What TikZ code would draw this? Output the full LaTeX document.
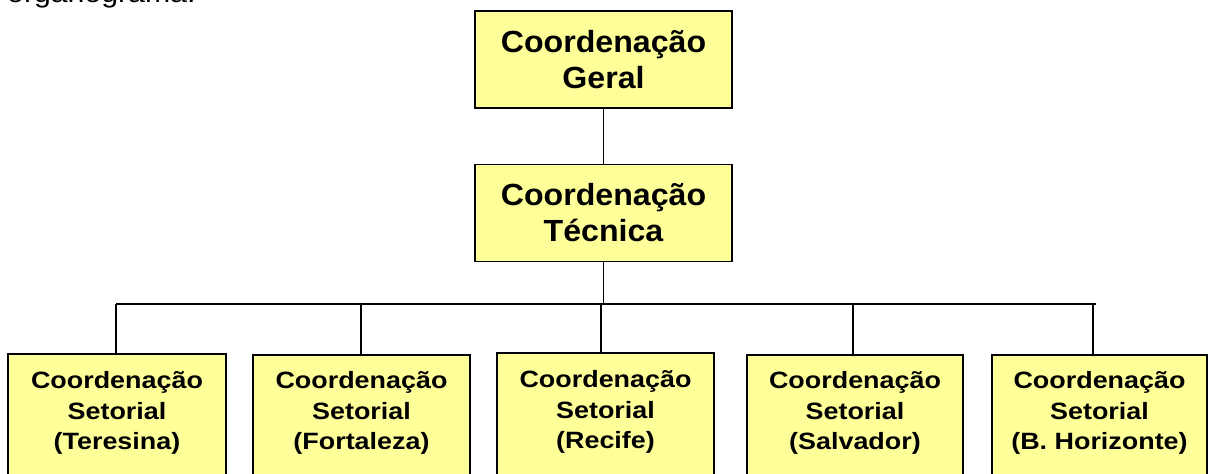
\documentclass[tikz,border=0pt]{standalone}
\usepackage{fontspec}
\setmainfont{Liberation Sans}
\newfontfamily\bigboxfont[FakeStretch=1.05]{Liberation Sans}
\newfontfamily\smallboxfont[FakeStretch=1.14]{Liberation Sans}
\newfontfamily\headfont[FakeStretch=1.12]{Liberation Sans}
\definecolor{boxyellow}{HTML}{FFFF99}
\begin{document}
\begin{tikzpicture}[x=1pt,y=-1pt,
  topbox/.style={draw=black, line width=1.8pt, fill=boxyellow, minimum width=257pt, minimum height=97pt,
    inner sep=0pt, align=center, font=\bigboxfont\bfseries\fontsize{30.6}{36}\selectfont},
  secframe/.style={draw=black, line width=1.8pt, fill=boxyellow, minimum height=150pt, inner sep=0pt, anchor=north},
  sectext/.style={inner sep=0pt, align=center, font=\smallboxfont\bfseries\fontsize{23.6}{30.5}\selectfont},
  conn/.style={draw=black, line width=1.4pt},
  bus/.style={draw=black, line width=1.9pt},
  headtext/.style={inner sep=0pt, anchor=base west, font=\headfont\fontsize{27}{32}\selectfont}
]
\useasboundingbox (0,0) rectangle (1208,474);
\clip (0,0) rectangle (1208,474);

\node[headtext] (head) at (7,2) {organograma.};

\node[topbox] (cg) at (603.5,59.5) {Coordenação\\Geral};
\node[topbox] (ct) at (603.5,213) {Coordenação\\Técnica};

\node[secframe, minimum width=218pt] (s1) at (117,353) {};
\node[secframe, minimum width=217pt] (s2) at (361.5,354) {};
\node[secframe, minimum width=217pt] (s3) at (605.5,352) {};
\node[secframe, minimum width=216pt] (s4) at (855,354) {};
\node[secframe, minimum width=215pt] (s5) at (1099.5,354) {};

\node[sectext] (t1) at (117,413) {Coordenação\\Setorial\\(Teresina)};
\node[sectext] (t2) at (361.5,413) {Coordenação\\Setorial\\(Fortaleza)};
\node[sectext] (t3) at (605.5,412) {Coordenação\\Setorial\\(Recife)};
\node[sectext] (t4) at (855,413) {Coordenação\\Setorial\\(Salvador)};
\node[sectext] (t5) at (1099.5,413) {Coordenação\\Setorial\\(B. Horizonte)};

\coordinate (busL) at (116,304);
\coordinate (busR) at (1096,304);
\coordinate (d1) at (116,304);
\coordinate (d2) at (361,304);
\coordinate (d3) at (601,304);
\coordinate (d4) at (853,304);
\coordinate (d5) at (1093,304);

\draw[conn] (cg.south) -- (ct.north);
\draw[conn] (ct.south) -- (ct.south |- busL);
\draw[bus] (busL) -- (busR);
\draw[conn] (d1) -- (d1 |- s1.north);
\draw[conn] (d2) -- (d2 |- s2.north);
\draw[conn] (d3) -- (d3 |- s3.north);
\draw[conn] (d4) -- (d4 |- s4.north);
\draw[conn] (d5) -- (d5 |- s5.north);
\end{tikzpicture}
\end{document}
